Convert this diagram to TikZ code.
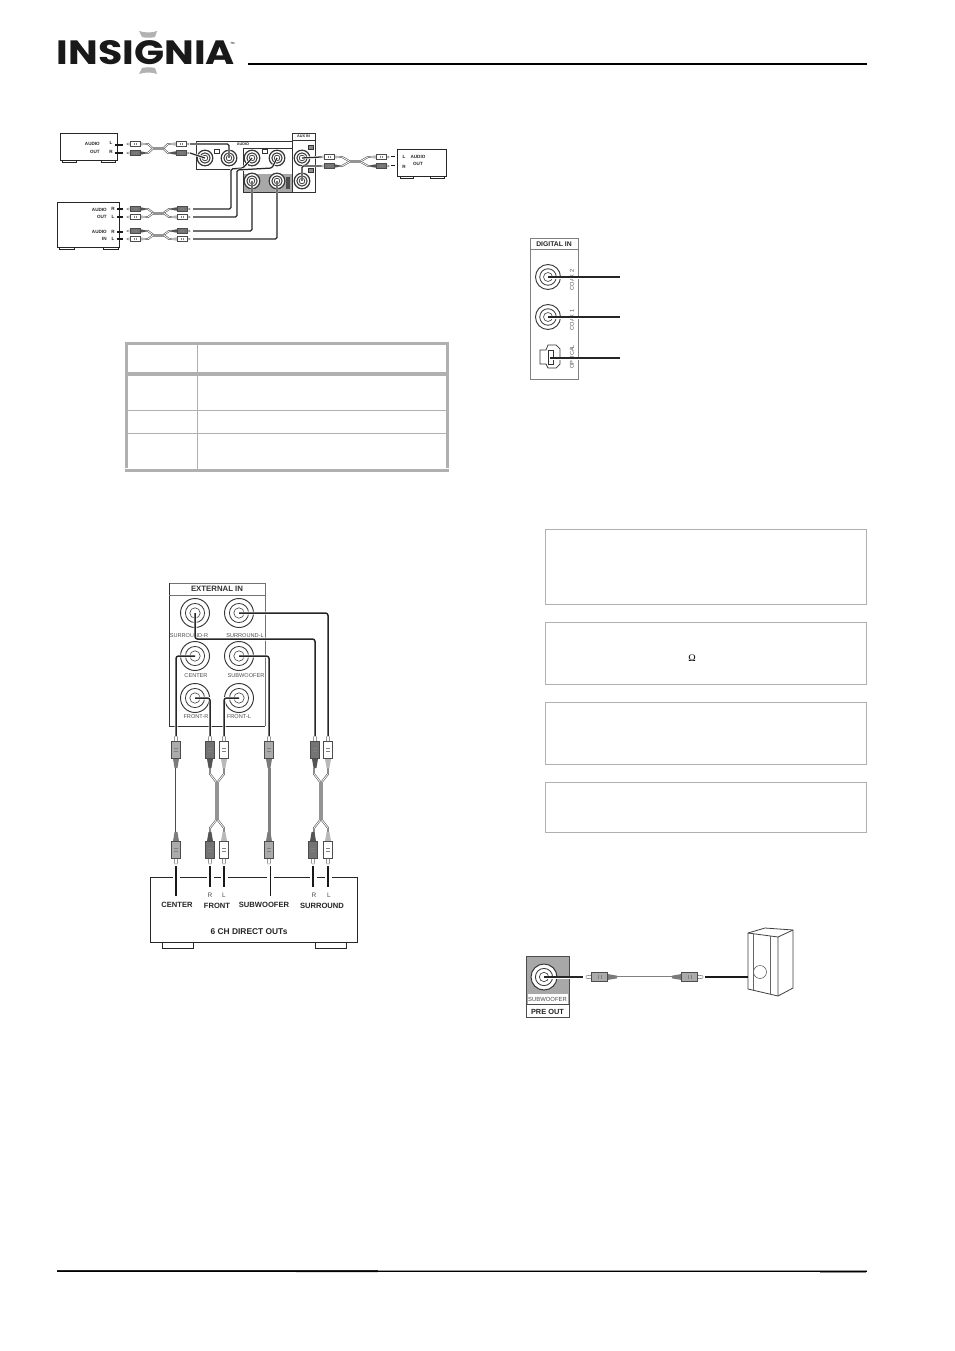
\documentclass[tikz,border=0pt]{standalone}
\usepackage{fontspec}
\usepackage{graphicx}
\setmainfont{Liberation Sans}
\newfontfamily\logofont{Poppins}
\newfontfamily\dejafont{Liberation Serif}
\definecolor{rule}{HTML}{B0B0B0}
\definecolor{plugM}{HTML}{ABABAB}
\definecolor{plugD}{HTML}{747474}
\definecolor{plugW}{HTML}{FFFFFF}
\definecolor{panel}{HTML}{A8A8A8}
\tikzset{
  wire/.style={line width=1.5pt,rounded corners=2.5pt,black!85,preaction={draw=white,line width=3pt}},
  thinwire/.style={line width=1.25pt,rounded corners=1.5pt,black!85,preaction={draw=white,line width=2.4pt}},
  tick/.style={line width=1.7pt,black!90},
  device/.style={draw=black!85,line width=.9pt,fill=white},
  foot/.style={draw=black!85,line width=.7pt,fill=white},
  panelline/.style={draw=black!80,line width=.8pt},
  rulebox/.style={draw=rule,line width=.9pt},
  tinylab/.style={font=\bfseries\fontsize{4.6}{5}\selectfont,inner sep=0pt,black!85},
  jacklab/.style={font=\fontsize{5.6}{6}\selectfont,inner sep=0pt,black!70},
  devlab/.style={font=\bfseries\fontsize{7.6}{8}\selectfont,inner sep=0pt,black!85},
  cordside/.style={draw=black!70,line width=1.9pt,line join=round,postaction={draw=white,line width=.8pt}},
  cordmerge/.style={black!42}
}
% name, x, y, outer radius, ring width
\newcommand{\jackat}[5]{%
  \coordinate (#1) at (#2,#3);
  \begin{scope}[shift={(#2,#3)}]
    \draw[black!78,line width=#5pt,fill=white] (0,0) circle (#4);
    \draw[black!78,line width=#5*.85pt] (0,0) circle (#4*.66);
    \draw[black!78,line width=#5*.6pt] (0,0) circle (#4*.36);
  \end{scope}}
% name, x, y (tip), angle, scale, colour
\newcommand{\plugat}[6]{%
  \coordinate (#1) at (#2,#3);
  \begin{scope}[shift={(#2,#3)},rotate=#4,scale=#5]
    \draw[black!70,line width=.4pt,fill=white] (0,-.8) -- (4,-1.3) -- (4,1.3) -- (0,.8) -- cycle;
    \fill[#6!72!black] (16,-2.2) -- (23,-1) -- (23,1) -- (16,2.2) -- cycle;
    \draw[black!70,line width=.45pt,fill=#6] (4,-3.3) rectangle (16,3.3);
    \draw[black!50,line width=.3pt] (9,-1.6) -- (9,1.6) (11,-1.6) -- (11,1.6);
  \end{scope}}
% horizontal Y lead: x of left end, x of right end, y upper, y lower
\newcommand{\ycordh}[4]{%
  \draw[cordside] (#1,#3) -- ++(3,0) -- ({(#1+#2)/2-5},{(#3+#4)/2});
  \draw[cordside] (#1,#4) -- ++(3,0) -- ({(#1+#2)/2-5},{(#3+#4)/2});
  \draw[cordside] (#2,#3) -- ++(-3,0) -- ({(#1+#2)/2+5},{(#3+#4)/2});
  \draw[cordside] (#2,#4) -- ++(-3,0) -- ({(#1+#2)/2+5},{(#3+#4)/2});
  \fill[cordmerge] ({(#1+#2)/2-5.5},{(#3+#4)/2-1.5}) rectangle ({(#1+#2)/2+5.5},{(#3+#4)/2+1.5});}
% vertical Y lead: x left, x right, y top, y bottom
\newcommand{\ycordv}[4]{%
  \draw[cordside] (#1,#3) -- ++(0,6) -- ({(#1+#2)/2},{#3+15});
  \draw[cordside] (#2,#3) -- ++(0,6) -- ({(#1+#2)/2},{#3+15});
  \draw[cordside] (#1,#4) -- ++(0,-6) -- ({(#1+#2)/2},{#4-15});
  \draw[cordside] (#2,#4) -- ++(0,-6) -- ({(#1+#2)/2},{#4-15});
  \fill[cordmerge] ({(#1+#2)/2-2.2},{#3+14}) rectangle ({(#1+#2)/2+2.2},{#4-14});}
\begin{document}
\begin{tikzpicture}[x=1pt,y=-1pt]
\useasboundingbox (0,0) rectangle (954,1351);
\fill[white] (0,0) rectangle (954,1351);

%% header
\fill[black!30] (139,31) .. controls (145,33) and (152,33) .. (157,31) -- (155,37) .. controls (151,38) and (146,38) .. (142,37) -- cycle;
\fill[black!30] (139,74) .. controls (145,72) and (152,72) .. (157,74) -- (155,68) .. controls (151,67) and (146,67) .. (142,68) -- cycle;
\node[inner sep=0pt,black!90] (logo) at (146,53) {\resizebox{178pt}{24pt}{\logofont\bfseries INSIGNIA}};
\node[inner sep=0pt,font=\bfseries\fontsize{3}{3}\selectfont,black!70] (tm) at (232.5,43) {TM};
\draw[black,line width=2pt] (248,64) -- (867,64);

%% top-left wiring diagram -- panel
\fill[panel] (243,174) rectangle (292,192);
\draw[panelline] (243,148) -- (243,192) -- (292,192);
\draw[panelline] (196,169) -- (243,169);
\draw[panelline] (196,169) -- (196,141) -- (292,141);
\draw[panelline] (243,148) -- (292,148);
\draw[panelline,fill=white] (292,133) rectangle (315,192);
\draw[panelline] (292,140) -- (315,140);
\node[tinylab] (auxin) at (303.5,136.6) {\fontsize{3.8}{4}\selectfont AUX IN};
\node[tinylab] (audiolab) at (243,144.5) {\fontsize{3.8}{4}\selectfont AUDIO};
\foreach \bx/\by in {217/151,265/151}{\draw[black!80,line width=.6pt,fill=white] (\bx-2.5,\by-2) rectangle (\bx+2.5,\by+2);}
\foreach \bx/\by in {311/147,311/170}{\draw[black!80,line width=.6pt,fill=black!45] (\bx-2.5,\by-2) rectangle (\bx+2.5,\by+2);}
\fill[black!70] (286,177) rectangle (290,189);
\jackat{ja}{205}{158}{7.8}{1.2}
\jackat{jb}{229}{158}{7.8}{1.2}
\jackat{jc}{252}{158}{7.8}{1.2}
\jackat{jd}{277}{158}{7.8}{1.2}
\jackat{je}{252}{181}{7.8}{1.2}
\jackat{jf}{277}{181}{7.8}{1.2}
\jackat{jg}{302}{158}{7.8}{1.2}
\jackat{jh}{302}{181}{7.8}{1.2}

% top-left device
\draw[device] (60,133) rectangle (117,160);
\draw[foot] (62,160) rectangle (76,162);
\draw[foot] (101,160) rectangle (115,162);
\node[tinylab,anchor=east] (t1) at (100,144) {AUDIO};
\node[tinylab,anchor=east] (t2) at (100,151.5) {OUT};
\node[tinylab] (t3) at (111,143) {L};
\node[tinylab] (t4) at (111,152) {R};
\draw[tick] (115,145) -- (123,145) (115,153) -- (123,153);
\ycordh{145}{171}{144}{153}
\plugat{pa1}{127}{144}{0}{.8}{plugW}
\plugat{pa2}{127}{153}{0}{.8}{plugD}
\plugat{pa3}{189}{144}{180}{.8}{plugW}
\plugat{pa4}{189}{153}{180}{.8}{plugD}
\draw[thinwire] (pa3)++(1,0) -| (jb);
\draw[thinwire] (pa4)++(1,0) -- (ja);

% lower-left device
\draw[device] (57,202) rectangle (119,247);
\draw[foot] (59,247) rectangle (74,249);
\draw[foot] (103,247) rectangle (118,249);
\node[tinylab,anchor=east] (t5) at (107,210) {AUDIO};
\node[tinylab,anchor=east] (t6) at (107,217) {OUT};
\node[tinylab,anchor=east] (t7) at (107,232) {AUDIO};
\node[tinylab,anchor=east] (t8) at (107,239) {IN};
\node[tinylab] (t9) at (113,209) {R};
\node[tinylab] (t10) at (113,217) {L};
\node[tinylab] (t11) at (113,232) {R};
\node[tinylab] (t12) at (113,239) {L};
\draw[tick] (117,209) -- (123,209) (117,217) -- (123,217) (117,232) -- (123,232) (117,239) -- (123,239);
\ycordh{145}{172}{209}{217}
\ycordh{145}{172}{231}{239}
\plugat{pb1}{127}{209}{0}{.8}{plugD}
\plugat{pb2}{127}{217}{0}{.8}{plugW}
\plugat{pb3}{127}{231}{0}{.8}{plugD}
\plugat{pb4}{127}{239}{0}{.8}{plugW}
\plugat{pc1}{190}{209}{180}{.8}{plugD}
\plugat{pc2}{190}{217}{180}{.8}{plugW}
\plugat{pc3}{190}{231}{180}{.8}{plugD}
\plugat{pc4}{190}{239}{180}{.8}{plugW}
\draw[thinwire] (pc1)++(3,0) -- (231,209) -- (231,169) -- (243,168) -- (jc);
\draw[thinwire] (pc2)++(3,0) -- (237,217) -- (237,170) -- (272,168) -- (jd);
\draw[thinwire] (pc3)++(3,0) -| (je);
\draw[thinwire] (pc4)++(3,0) -| (jf);

% right device
\draw[device] (397,149) rectangle (446,176);
\draw[foot] (400,176) rectangle (413,178);
\draw[foot] (430,176) rectangle (444,178);
\node[tinylab] (t13) at (404,157) {L};
\node[tinylab] (t14) at (404,167) {R};
\node[tinylab] (t15) at (418,157) {AUDIO};
\node[tinylab] (t16) at (418,163.5) {OUT};
\draw[tick,line width=1pt] (391,157) -- (395,157) (391,166) -- (395,166);
\ycordh{339}{371}{157}{166}
\plugat{pd1}{321}{157}{0}{.8}{plugW}
\plugat{pd2}{321}{166}{0}{.8}{plugD}
\plugat{pd3}{389}{157}{180}{.8}{plugW}
\plugat{pd4}{389}{166}{180}{.8}{plugD}
\draw[thinwire] (jg) -- (pd1);
\draw[thinwire] (jh) |- (pd2);

%% table
\fill[rule] (125,342) rectangle (449,345);
\fill[rule] (125,372) rectangle (449,376);
\fill[rule] (125,469) rectangle (449,472);
\fill[rule] (125,342) rectangle (128,468);
\fill[rule] (446,342) rectangle (449,468);
\draw[rule,line width=1pt] (197,345) -- (197,472);
\draw[rule,line width=1pt] (126,410) -- (448,410) (126,433) -- (448,433);

%% EXTERNAL IN
\draw[black!55,line width=.9pt] (265,726) -- (265,583) -- (169,583);
\draw[black!80,line width=1pt] (169,583) -- (169,726) -- (265,726);
\draw[black!55,line width=.8pt] (169,595) -- (265,595);
\node[inner sep=0pt,font=\bfseries\fontsize{7.8}{8}\selectfont,black!80] (extin) at (217,589) {EXTERNAL IN};
\jackat{k1}{195}{613}{14.5}{.95}
\jackat{k2}{239}{613}{14.5}{.95}
\jackat{k3}{195}{656}{14.5}{.95}
\jackat{k4}{239}{656}{14.5}{.95}
\jackat{k5}{195}{698}{14.5}{.95}
\jackat{k6}{239}{698}{14.5}{.95}
\node[jacklab] (l1) at (189,636) {SURROUND-R};
\node[jacklab] (l2) at (245,636) {SURROUND-L};
\node[jacklab] (l3) at (196,676) {CENTER};
\node[jacklab] (l4) at (246,676) {SUBWOOFER};
\node[jacklab] (l5) at (196,717) {FRONT-R};
\node[jacklab] (l6) at (239,717) {FRONT-L};

% leads
\draw[cordside] (176,768) -- (176,834);
\fill[black!50] (267.8,768) rectangle (270.6,834);
\ycordv{210}{224}{768}{834}
\ycordv{314}{328}{768}{834}
\plugat{q1}{176}{736}{-90}{1.4}{plugM}
\plugat{q2}{210}{736}{-90}{1.4}{plugD}
\plugat{q3}{224}{736}{-90}{1.4}{plugW}
\plugat{q4}{269}{736}{-90}{1.4}{plugM}
\plugat{q5}{315}{736}{-90}{1.4}{plugD}
\plugat{q6}{328}{736}{-90}{1.4}{plugW}
\plugat{r1}{176}{864}{90}{1.4}{plugM}
\plugat{r2}{210}{864}{90}{1.4}{plugD}
\plugat{r3}{224}{864}{90}{1.4}{plugW}
\plugat{r4}{269}{864}{90}{1.4}{plugM}
\plugat{r5}{313}{864}{90}{1.4}{plugD}
\plugat{r6}{328}{864}{90}{1.4}{plugW}
\draw[wire] (k2) -| (q6);
\draw[wire] (k1) -- ++(0,26) -| (q5);
\draw[wire] (k3) -| (q1);
\draw[wire] (k4) -| (q4);
\draw[wire] (k5) -| (q2);
\draw[wire] (k6) -| (q3);

% six-channel device
\draw[foot,line width=.9pt] (162,942) rectangle (193,948);
\draw[foot,line width=.9pt] (315,942) rectangle (346,948);
\draw[device] (150,877) rectangle (357,942);
\foreach \cx in {176,210,224,270,313,328}{\fill[white] (\cx-3.5,875) rectangle (\cx+3.5,879);}
\draw[tick] (r1)++(0,2) -- (176,896);
\draw[tick] (r2)++(0,2) -- (210,887);
\draw[tick] (r3)++(0,2) -- (224,887);
\draw[tick,line width=1pt] (r4)++(1,2) -- (270,896);
\draw[tick] (r5)++(0,2) -- (313,887);
\draw[tick] (r6)++(0,2) -- (328,887);
\node[jacklab,font=\fontsize{6.5}{7}\selectfont] (m1) at (210,895) {R};
\node[jacklab,font=\fontsize{6.5}{7}\selectfont] (m2) at (224,895) {L};
\node[jacklab,font=\fontsize{6.5}{7}\selectfont] (m3) at (314,895) {R};
\node[jacklab,font=\fontsize{6.5}{7}\selectfont] (m4) at (329,895) {L};
\node[devlab] (d1) at (177,905) {CENTER};
\node[devlab] (d2) at (217,906) {FRONT};
\node[devlab] (d3) at (264,905) {SUBWOOFER};
\node[devlab] (d4) at (322,906) {SURROUND};
\node[devlab,font=\bfseries\fontsize{8.4}{9}\selectfont] (d5) at (249,932) {6 CH DIRECT OUTs};

%% DIGITAL IN
\draw[black!50,line width=.8pt] (530,238) rectangle (578,379);
\draw[black!50,line width=.8pt] (530,249) -- (578,249);
\node[inner sep=0pt,font=\bfseries\fontsize{6.8}{7}\selectfont,black!85] (digin) at (554,244) {DIGITAL IN};
\jackat{n1}{548}{277}{12.5}{.95}
\jackat{n2}{548}{317}{12.5}{.95}
\node[jacklab,rotate=90] (o1) at (572,280) {COAX 2};
\node[jacklab,rotate=90] (o2) at (572,320) {COAX 1};
\node[jacklab,rotate=90] (o3) at (572,357) {OPTICAL};
\draw[black!80,line width=.7pt] (540,350) -- (546,350) -- (548,345) -- (556,345) -- (560,349) -- (560,364) -- (556,368) -- (548,368) -- (546,364) -- (540,364) -- cycle;
\draw[black!80,line width=.7pt] (548,350) -- (553,350) -- (553,364) -- (548,364) -- cycle;
\coordinate (n3) at (550,358);
\coordinate (e1) at (620,277);
\coordinate (e2) at (620,317);
\coordinate (e3) at (620,358);
\draw[wire,line width=1.3pt] (n1) -- (e1);
\draw[wire,line width=1.3pt] (n2) -- (e2);
\draw[wire,line width=1.3pt] (n3) -- (e3);

%% rule boxes
\draw[rulebox] (545,529) rectangle (866,604);
\draw[rulebox] (545,622) rectangle (866,684);
\draw[rulebox] (545,702) rectangle (866,764);
\draw[rulebox] (545,782) rectangle (866,832);
\node[inner sep=0pt,font=\dejafont\fontsize{10}{10}\selectfont] (ohm) at (692,658) {Ω};

%% subwoofer
\fill[panel] (526,956) rectangle (569,1004);
\draw[black!70,line width=.8pt] (526,956) rectangle (569,1017);
\draw[black!70,line width=.8pt] (526,1004) -- (569,1004);
\draw[white,fill=white] (528,994.5) rectangle (567,1003);
\node[jacklab,font=\fontsize{5.9}{6}\selectfont] (s1) at (547.5,999) {SUBWOOFER};
\node[inner sep=0pt,font=\bfseries\fontsize{7.4}{8}\selectfont,black!85] (s2) at (547.5,1011.5) {PRE OUT};
\jackat{sj}{544}{977}{13}{1}
\draw[cordside,draw=black!50] (617,977) -- (672,977);
\plugat{sp1}{586}{977}{0}{1.35}{plugM}
\plugat{sp2}{703}{977}{180}{1.35}{plugM}
\coordinate (sp0) at (583,977);
\draw[wire] (sj) -- (sp0);
% speaker
\draw[black!75,line width=.8pt,line join=round,fill=white] (748,933) -- (765,928) -- (793,930) -- (793,988) -- (778,996) -- (748,989) -- cycle;
\draw[black!75,line width=.8pt,line join=round] (748,933) -- (778,937) -- (793,930) (778,937) -- (778,996);
\draw[black!60,line width=.6pt] (753,934) -- (753,990) (770,936) -- (770,994);
\draw[black!60,line width=.6pt] (760,972) circle (6.5);
\coordinate (spk) at (748,977);
\coordinate (sp3) at (705,977);
\draw[black!90,line width=1.1pt] (sp3) -- (spk);

%% footer
\fill[black!85] (57,1270) rectangle (378,1271);
\fill[black!40] (378,1270) rectangle (867,1271);
\fill[black] (57,1271) rectangle (867,1272);
\fill[black!12] (296,1272) rectangle (378,1273);
\fill[black!45] (820,1272) rectangle (866,1273);
\end{tikzpicture}
\end{document}
